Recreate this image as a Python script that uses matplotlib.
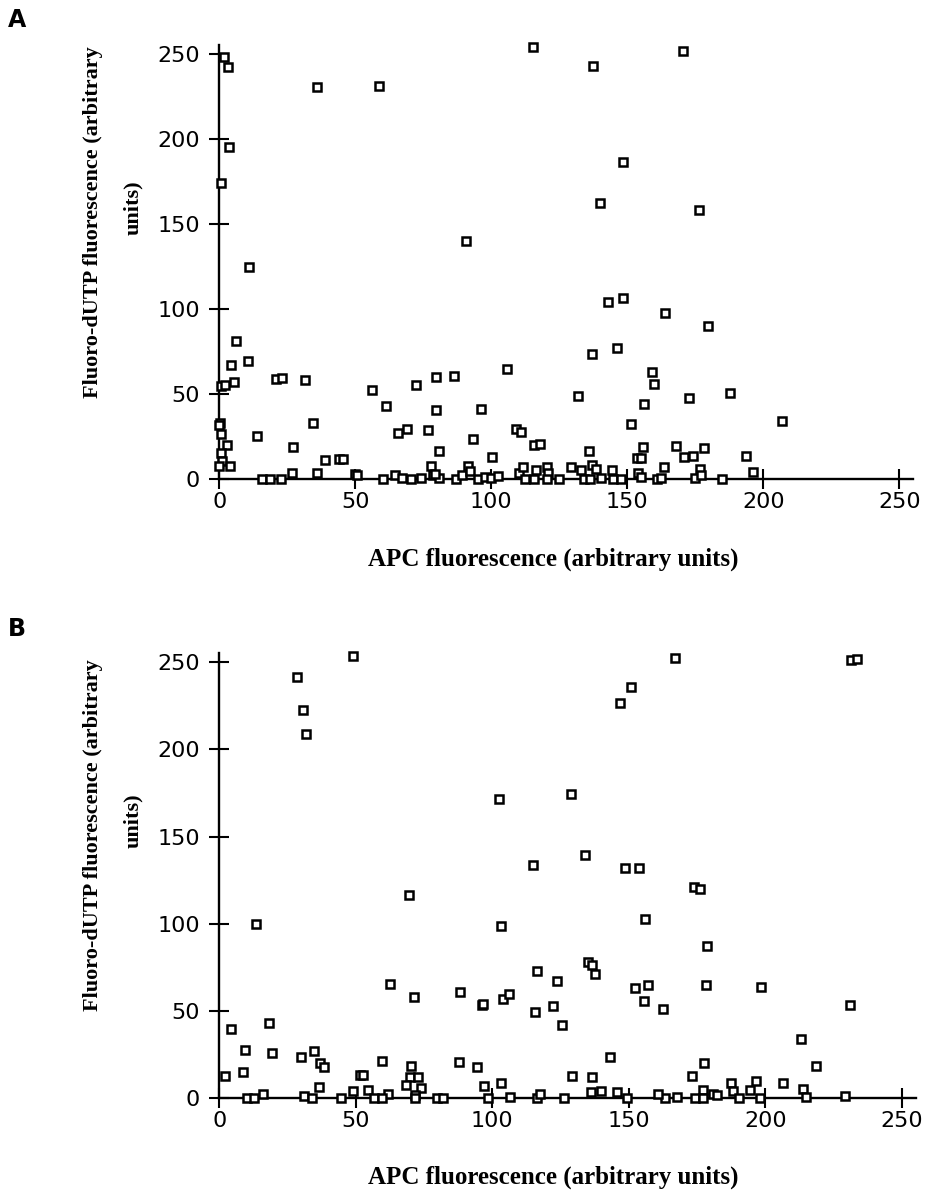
import matplotlib
matplotlib.use("Agg")
import matplotlib.pyplot as plt

# Panel A: APC vs Fluoro-dUTP fluorescence (arbitrary units)
a_apc = [1.7, 3.2, 35.9, 58.8, 3.4, 0.7, 10.8, 6.0, 4.4, 10.6, 5.5, 0.5, 2.2,
         21.0, 22.9, 31.4, 56.1, 61.2, 72.2, 79.6, 79.7, 0.3, 0.0, 0.6, 13.9,
         34.3, 2.7, 27.1, 0.5, 1.0, 0.0, 4.0, 38.9, 44.1, 45.6, 65.8, 68.9,
         76.6, 80.7, 78.0, 15.6, 18.6, 22.8, 26.8, 36.0, 50.0, 50.5, 60.3, 64.7,
         67.3, 70.5, 74.0, 78.7, 80.9, 115.2, 137.5, 148.4, 139.9, 90.7, 170.6,
         176.4, 143.0, 148.4, 163.7, 137.1, 146.3, 159.1, 159.8, 156.1, 151.5,
         132.0, 86.3, 105.9, 96.2, 93.2, 100.3, 109.2, 111.0, 115.7, 117.8,
         136.0, 155.9, 153.4, 154.9, 163.4, 79.3, 87.0, 89.3, 91.3, 92.1, 95.2,
         97.7, 99.9, 102.6, 110.3, 111.8, 112.4, 115.8, 116.3, 120.4, 121.0,
         120.6, 124.9, 129.4, 132.9, 134.1, 136.3, 136.9, 138.5, 140.2, 144.5,
         144.6, 147.6, 154.0, 155.0, 160.8, 162.4, 179.7, 172.6, 187.6, 207.0,
         167.8, 171.0, 174.3, 178.3, 193.6, 176.7, 196.1, 174.9, 177.0, 184.7]
a_dutp = [248.6, 242.5, 231.0, 231.4, 195.3, 174.5, 124.7, 81.5, 67.4, 69.6,
          57.0, 54.9, 55.5, 59.2, 59.4, 58.2, 52.5, 43.3, 55.5, 60.4, 40.6,
          33.1, 32.0, 26.5, 25.3, 33.1, 20.0, 18.8, 15.7, 10.8, 7.8, 8.0, 11.5,
          11.8, 11.8, 27.1, 29.4, 29.2, 16.6, 7.8, 0.0, 0.0, 0.0, 3.5, 3.9, 3.3,
          2.3, 0.2, 2.7, 0.8, 0.0, 0.8, 2.5, 0.6, 254.1, 243.0, 186.8, 162.7,
          140.2, 252.1, 158.4, 104.5, 106.5, 98.0, 73.9, 77.2, 63.3, 55.9, 44.5,
          32.4, 49.0, 60.8, 64.9, 41.4, 23.7, 12.9, 29.4, 27.8, 20.2, 20.6,
          16.8, 19.0, 12.4, 12.5, 7.4, 3.1, 0.0, 2.7, 7.8, 4.9, 0.0, 1.5, 0.9,
          1.9, 3.5, 7.4, 0.0, 0.0, 5.5, 7.1, 3.9, 0.0, 0.0, 7.1, 5.5, 0.0, 0.0,
          8.4, 6.1, 0.9, 5.5, 0.0, 0.0, 3.9, 1.5, 0.0, 0.6, 90.0, 47.6, 50.8,
          34.5, 19.8, 13.1, 13.5, 18.2, 13.7, 5.9, 4.1, 0.9, 2.5, 0.0]

# Panel B
b_apc = [48.9, 28.4, 30.7, 31.8, 166.8, 231.3, 233.5, 150.8, 146.7, 102.3,
         128.9, 134.1, 115.0, 148.5, 153.8, 173.9, 176.1, 178.6, 178.3, 198.5,
         162.7, 231.1, 213.1, 218.6, 177.4, 173.2, 187.4, 196.6, 206.4, 213.9,
         177.2, 188.2, 194.4, 181.0, 182.2, 163.3, 167.5, 174.1, 177.3, 190.5,
         198.1, 214.8, 229.3, 69.5, 13.6, 62.5, 71.4, 4.2, 18.1, 9.3, 19.2,
         30.0, 34.8, 36.8, 38.4, 59.5, 70.3, 69.7, 72.9, 68.4, 74.0, 2.1, 8.7,
         51.6, 52.6, 36.5, 49.0, 54.4, 61.7, 15.9, 31.1, 71.7, 10.1, 12.7, 33.8,
         44.7, 56.6, 59.6, 71.7, 79.6, 103.1, 155.8, 116.5, 123.7, 135.1, 136.5,
         137.7, 152.2, 157.0, 155.6, 88.2, 96.1, 96.5, 103.9, 106.0, 115.5,
         122.2, 125.4, 87.7, 94.3, 96.9, 103.1, 143.2, 129.3, 136.4, 136.3,
         139.8, 145.8, 160.6, 81.8, 98.5, 106.4, 116.5, 117.5, 126.2, 149.2]
b_dutp = [253.6, 241.6, 222.8, 208.9, 252.3, 251.3, 251.9, 235.8, 226.7, 171.4,
          174.5, 139.7, 133.6, 132.1, 132.2, 121.0, 120.0, 87.5, 65.0, 63.6,
          51.1, 53.3, 33.8, 18.5, 20.1, 12.6, 8.6, 9.9, 8.8, 5.3, 4.8, 4.4, 4.8,
          2.5, 1.9, 0.0, 0.9, 0.0, 0.0, 0.0, 0.0, 0.6, 1.5, 116.6, 100.1, 65.5,
          58.3, 39.7, 43.0, 27.7, 26.0, 23.9, 27.1, 20.4, 17.9, 21.2, 18.3, 12.2,
          12.4, 7.8, 5.9, 12.6, 14.9, 13.2, 13.2, 6.5, 4.2, 4.9, 2.6, 2.6, 1.5,
          1.9, 0.0, 0.0, 0.0, 0.0, 0.0, 0.0, 0.0, 0.0, 98.8, 102.6, 73.2, 67.3,
          78.2, 76.6, 71.3, 63.4, 65.1, 56.0, 61.1, 53.7, 54.3, 56.8, 59.8,
          49.5, 52.7, 41.9, 21.0, 18.1, 7.1, 8.8, 23.7, 13.0, 12.0, 3.8, 4.0,
          3.6, 2.5, 0.0, 0.0, 0.8, 0.3, 2.3, 0.3, 0.3]

ticks = [0, 50, 100, 150, 200, 250]
xlab = "APC fluorescence (arbitrary units)"
ylab1 = "Fluoro-dUTP fluorescence (arbitrary"
ylab2 = "units)"

plt.rcParams["font.family"] = "DejaVu Sans"
W, H = 930, 1195
fig = plt.figure(figsize=(W / 100, H / 100), dpi=100)
serif = dict(family="Liberation Serif", fontweight="bold", fontsize=16)


def panel(rect, xs, ys, xmax, ymax):
    ax = fig.add_axes(rect)
    ax.plot(xs, ys, ls="none", marker="s", ms=5.4, mew=1.8,
            mec="black", mfc="white", clip_on=False, zorder=3)
    ax.set_xlim(0, xmax)
    ax.set_ylim(0, ymax)
    ax.set_xticks(ticks)
    ax.set_yticks(ticks)
    for s in ("top", "right"):
        ax.spines[s].set_visible(False)
    for s in ("left", "bottom"):
        ax.spines[s].set_linewidth(1.7)
    ax.tick_params(direction="inout", length=13.7, width=1.5, labelsize=16)
    ax.tick_params(axis="y", pad=7)
    ax.tick_params(axis="x", pad=2)
    return ax


# panel A
panel([219.3 / W, 1 - 479.3 / H, 693.6 / W, 434.4 / H], a_apc, a_dutp, 255, 255.5)
# panel B
panel([219.3 / W, 1 - 1098.3 / H, 696.7 / W, 445.6 / H], b_apc, b_dutp, 255.2, 255.5)

for lab, dy in (("A", 0), ("B", 609)):
    fig.text(8 / W, 1 - (27 + dy) / H, lab, ha="left", va="baseline",
             fontsize=17, fontweight="bold")
    fig.text(93 / W, 1 - (222 + dy + (4 if dy else 0)) / H, ylab1,
             rotation=90, ha="center", va="center", **serif)
    fig.text(133 / W, 1 - (207.5 + dy + (4 if dy else 0)) / H, ylab2,
             rotation=90, ha="center", va="center", **serif)

xserif = dict(serif, fontsize=18)
fig.text(553 / W, 1 - 559 / H, xlab, ha="center", va="center", **xserif)
fig.text(553 / W, 1 - 1177 / H, xlab, ha="center", va="center", **xserif)

fig.savefig("out.png", dpi=100, facecolor="white")
